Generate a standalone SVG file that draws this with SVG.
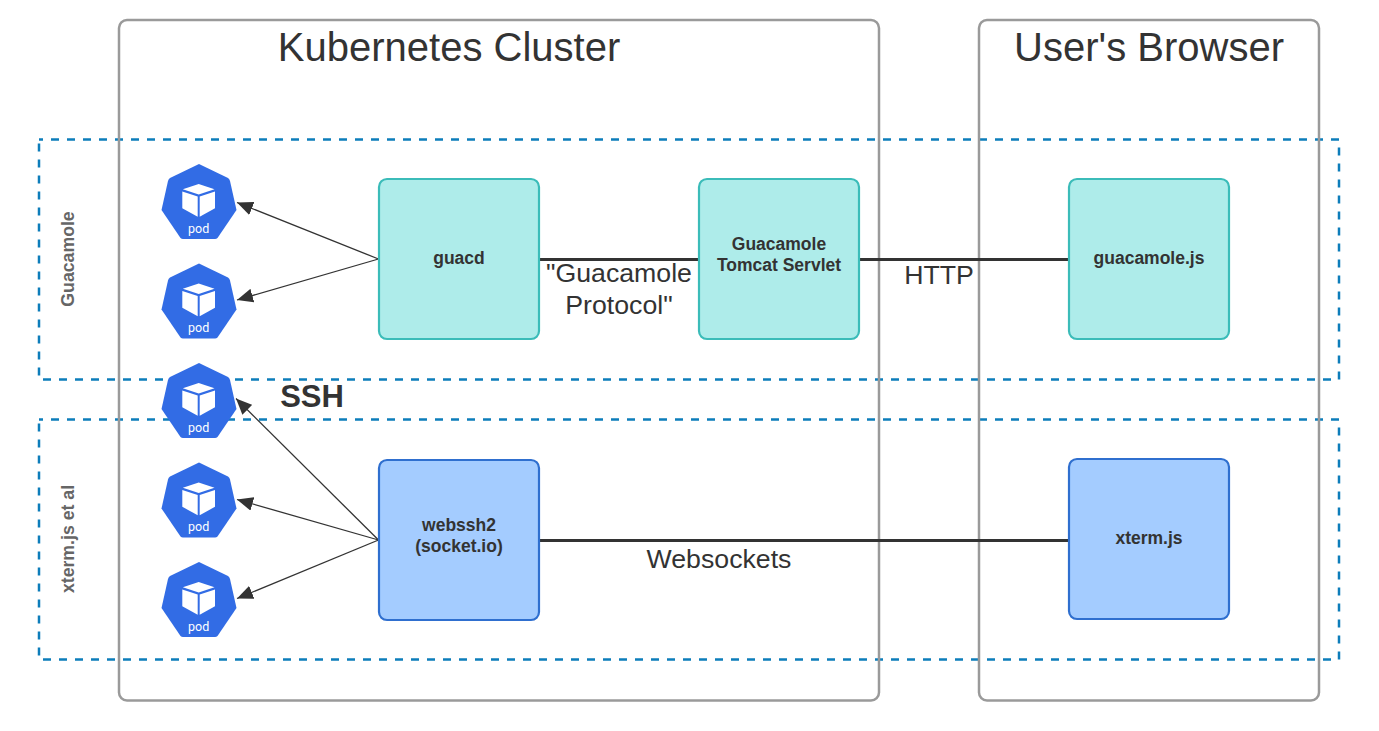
<svg xmlns="http://www.w3.org/2000/svg" xmlns:xlink="http://www.w3.org/1999/xlink" width="1379" height="731" viewBox="0 0 1379 731">
<style>
text{font-family:"Liberation Sans",Arial,sans-serif;fill:#333333;text-anchor:middle}
.region{fill:none;stroke:#9a9a9a;stroke-width:2.5}
.lane{fill:none;stroke:#0d7dba;stroke-width:2.5;stroke-dasharray:8 8;stroke-dashoffset:4}
.teal{fill:#aeecea;stroke:#3bbcb9;stroke-width:2.2}
.blue{fill:#a4ccff;stroke:#2f6fcf;stroke-width:2.2}
.thick{fill:none;stroke:#333333;stroke-width:3}
.thin{fill:none;stroke:#333333;stroke-width:1.3;marker-end:url(#arrow)}
.title{font-size:40px}
.label{font-size:26.700px}
.node{font-size:17.500px;font-weight:700}
.lanelabel{font-size:17.700px;font-weight:700;fill:#666666}
.pod{font-size:12.500px;fill:#ffffff;font-family:Roboto,"Liberation Sans",sans-serif}
</style>
<defs>
<marker id="arrow" markerUnits="userSpaceOnUse" markerWidth="17" markerHeight="14" refX="16" refY="7" orient="auto">
<path d="M0 0L16 7L0 14Z" fill="#333333"/>
</marker>
<g id="podshape">
<path d="M199 164L228 178Q229.500 179 230 181L236.500 210L217.500 238Q216.500 239 215 239L183 239Q181.500 239 180.500 238L161.500 210L168 181Q168.500 179 170 178Z" fill="#326ce5"/>
<path d="M198.700 184L214.500 189.300L198.700 194.600L182.800 189.300Z" fill="#ffffff"/>
<path d="M182.300 191.500L197.700 196.500V216.700L182.300 208.300Z" fill="#ffffff"/>
<path d="M215 191.500L199.700 196.500V216.700L215 208.300Z" fill="#ffffff"/>
<text x="198.700" y="232.500" class="pod">pod</text>
</g>
</defs>
<rect width="1379" height="731" fill="#ffffff"/>
<g id="lanes">
<rect id="lane-guacamole" class="lane" x="39" y="139.500" width="1300" height="240"/>
<rect id="lane-xterm" class="lane" x="39" y="419.500" width="1300" height="240"/>
<text class="lanelabel" transform="translate(73.500 259) rotate(-90)">Guacamole</text>
<text class="lanelabel" transform="translate(73.500 539) rotate(-90)">xterm.js et al</text>
</g>
<g id="cluster"><rect class="region" x="119" y="20" width="760" height="680.500" rx="8"/><text class="title" x="449" y="60.500">Kubernetes Cluster</text></g>
<g id="browser"><rect class="region" x="979" y="20" width="340" height="680.500" rx="8"/><text class="title" x="1149" y="60.500">User's Browser</text></g>
<g id="connectors">
<path class="thick" d="M539 259.500H699"/>
<path class="thick" d="M859 259.500H1069"/>
<path class="thick" d="M539 540.500H1069"/>
<path class="thin" d="M378.500 259L237 202.500"/>
<path class="thin" d="M378.500 259L237 300"/>
<path class="thin" d="M378.500 540L236 398.500"/>
<path class="thin" d="M378.500 540L237 499.500"/>
<path class="thin" d="M378.500 540L237 598.500"/>
</g>
<g id="pod1"><use xlink:href="#podshape" href="#podshape"/></g>
<g id="pod2"><use xlink:href="#podshape" href="#podshape" y="99.500"/></g>
<g id="pod3"><use xlink:href="#podshape" href="#podshape" y="199"/></g>
<g id="pod4"><use xlink:href="#podshape" href="#podshape" y="298.500"/></g>
<g id="pod5"><use xlink:href="#podshape" href="#podshape" y="398"/></g>
<g id="guacd"><rect class="teal" x="379" y="179" width="160" height="160" rx="8"/><text class="node" x="459" y="264">guacd</text></g>
<g id="tomcat"><rect class="teal" x="699" y="179" width="160" height="160" rx="8"/><text class="node" x="779" y="250">Guacamole</text><text class="node" x="779" y="271">Tomcat Servlet</text></g>
<g id="guacamolejs"><rect class="teal" x="1069" y="179" width="160" height="160" rx="8"/><text class="node" x="1149" y="264">guacamole.js</text></g>
<g id="webssh2"><rect class="blue" x="379" y="460" width="160" height="160" rx="8"/><text class="node" x="459" y="531">webssh2</text><text class="node" x="459" y="552">(socket.io)</text></g>
<g id="xtermjs"><rect class="blue" x="1069" y="459" width="160" height="160" rx="8"/><text class="node" x="1149" y="544">xterm.js</text></g>
<g id="labels">
<text class="label" x="619" y="282">"Guacamole</text>
<text class="label" x="619" y="314">Protocol"</text>
<text class="label" x="939" y="284">HTTP</text>
<text class="label" x="719" y="568">Websockets</text>
<text x="312" y="407" font-size="31" font-weight="700">SSH</text>
</g>
</svg>
